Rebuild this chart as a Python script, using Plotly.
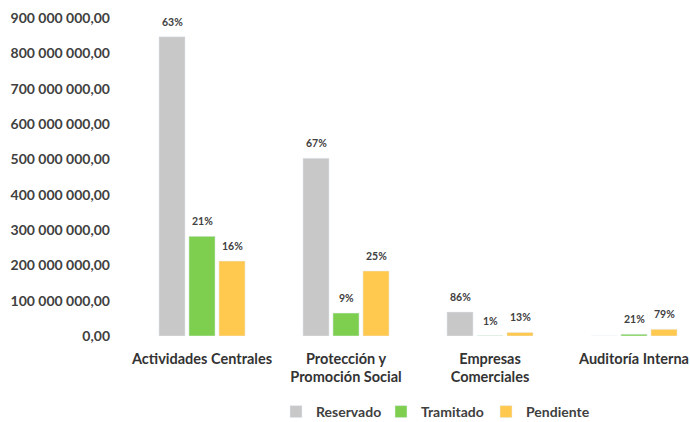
import plotly.graph_objects as go

categories = ["Actividades Centrales", "Protección y<br>Promoción Social", "Empresas<br>Comerciales", "Auditoría Interna"]
reservado = [847e6, 503e6, 68e6, 0]
tramitado = [282e6, 65e6, 0.8e6, 5e6]
pendiente = [212e6, 184e6, 10e6, 19e6]
reservado_pct = ["63%", "67%", "86%", ""]
tramitado_pct = ["21%", "9%", "1%", "21%"]
pendiente_pct = ["16%", "25%", "13%", "79%"]
tick_vals = [0, 100e6, 200e6, 300e6, 400e6, 500e6, 600e6, 700e6, 800e6, 900e6]

series = [
    ("Reservado", reservado, reservado_pct, "#C8C8C8"),
    ("Tramitado", tramitado, tramitado_pct, "#7ECF4F"),
    ("Pendiente", pendiente, pendiente_pct, "#FFC94F"),
]

BARGAP = 0.375
fig = go.Figure()
slot = (1 - BARGAP) / len(series)
for k, (name, vals, txt, col) in enumerate(series):
    fig.add_trace(go.Bar(
        x=list(range(len(categories))), y=vals, name=name, marker_color=col,
    ))
    for i, (v, t) in enumerate(zip(vals, txt)):
        if t:
            fig.add_annotation(
                x=i + (k - 1) * slot, y=v, text=t, showarrow=False,
                yshift=15, yanchor="middle",
                font=dict(family="Lato", size=10.5, color="#404040", weight="bold"),
            )

fig.update_layout(
    width=690, height=422,
    paper_bgcolor="white", plot_bgcolor="white",
    margin=dict(l=130, r=0, t=18, b=86, autoexpand=False),
    separators=", ",
    barmode="group", bargap=BARGAP, bargroupgap=0.13,
    font=dict(family="Lato", color="#404040", size=12),
    showlegend=True,
    legend=dict(orientation="h", xref="container", yref="container",
                x=0.40, xanchor="left", y=1 - 412 / 422, yanchor="middle",
                entrywidth=60, entrywidthmode="pixels",
                font=dict(family="Lato", size=14, color="#404040", weight="bold"),
                traceorder="normal"),
)
fig.update_xaxes(
    tickmode="array", tickvals=list(range(len(categories))), ticktext=categories,
    range=[-0.5, -0.5 + 560 / 144], showgrid=False, showline=False, zeroline=False, ticks="",
    automargin=False, ticklabelstandoff=12,
    tickfont=dict(family="Lato", size=14.5, color="#333333", weight="bold"),
)
fig.update_yaxes(
    range=[0, 900e6], tickvals=tick_vals, tickformat=",.2f", showgrid=False, showline=False,
    zeroline=False, ticks="", ticklabelstandoff=19, automargin=False,
    tickfont=dict(family="Lato", size=14, color="#404040", weight="bold"),
)
fig.write_html("out.html", config={"displayModeBar": False},
               post_script="document.body.style.margin='0';document.body.style.overflow='hidden';")
